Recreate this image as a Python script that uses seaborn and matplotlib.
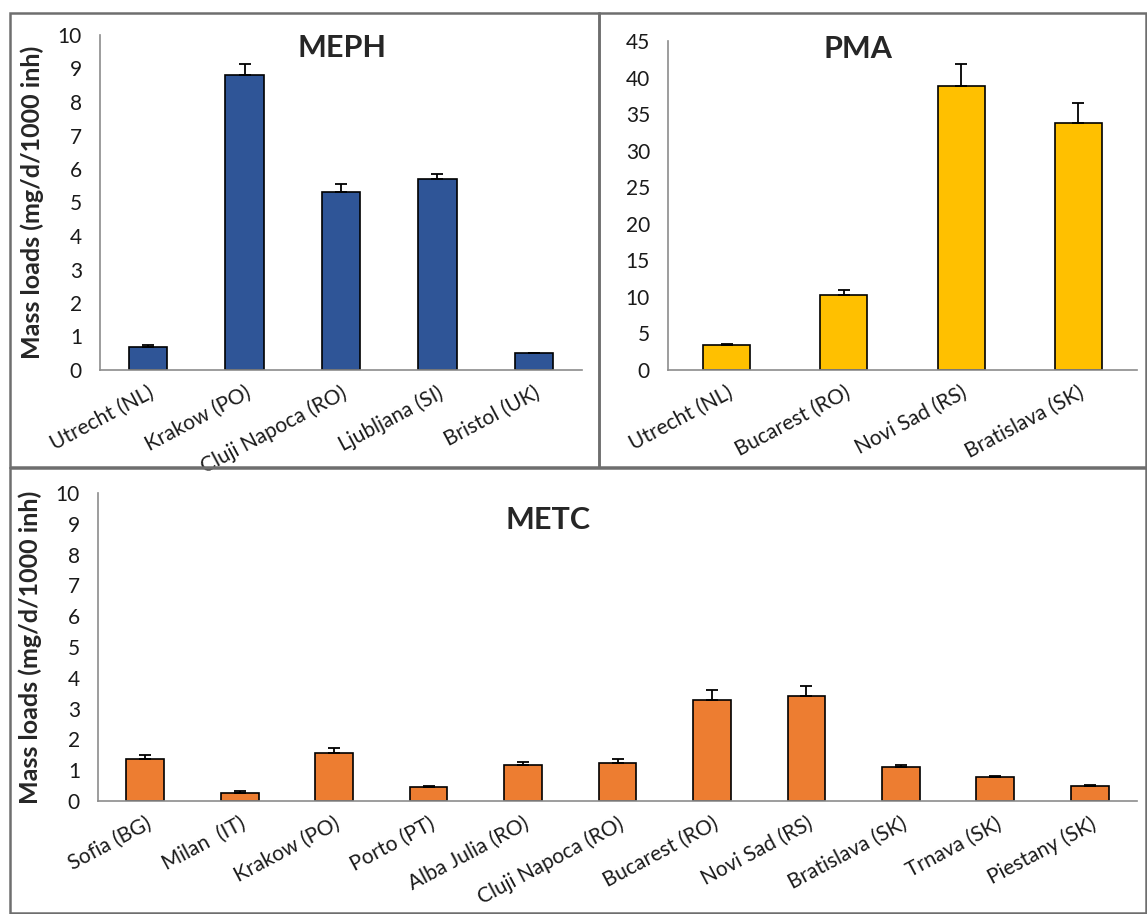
import numpy as np
import pandas as pd
import matplotlib.pyplot as plt
import seaborn as sns
from matplotlib.patches import Rectangle

# MEPH panel
meph_cities = ["Utrecht (NL)", "Krakow (PO)", "Cluji Napoca (RO)", "Ljubljana (SI)", "Bristol (UK)"]
meph_loads = [0.70, 8.82, 5.32, 5.70, 0.50]
meph_err = [0.05, 0.30, 0.22, 0.15, 0.02]

# PMA panel
pma_cities = ["Utrecht (NL)", "Bucarest (RO)", "Novi Sad (RS)", "Bratislava (SK)"]
pma_loads = [3.4, 10.2, 38.9, 33.8]
pma_err = [0.15, 0.7, 3.0, 2.7]

# METC panel
metc_cities = ["Sofia (BG)", "Milan  (IT)", "Krakow (PO)", "Porto (PT)", "Alba Julia (RO)",
               "Cluji Napoca (RO)", "Bucarest (RO)", "Novi Sad (RS)", "Bratislava (SK)",
               "Trnava (SK)", "Piestany (SK)"]
metc_loads = [1.35, 0.27, 1.57, 0.45, 1.18, 1.25, 3.28, 3.42, 1.10, 0.77, 0.50]
metc_err = [0.13, 0.04, 0.15, 0.03, 0.08, 0.10, 0.33, 0.33, 0.08, 0.03, 0.03]

sns.set_style("white")
plt.rcParams['font.family'] = ['Lato', 'DejaVu Sans']

W, H = 1147, 914
fig = plt.figure(figsize=(W / 100, H / 100), dpi=100)


def px_axes(x0, y0, x1, y1):
    # pixel box (top-left origin) -> figure axes
    return fig.add_axes([x0 / W, 1 - y1 / H, (x1 - x0) / W, (y1 - y0) / H])


def panel(ax, cities, loads, err, color, title, ymax, ystep, title_xy, ylabel):
    df = pd.DataFrame({"city": cities, "load": loads})
    sns.barplot(data=df, x="city", y="load", color=color, saturation=1,
                edgecolor="black", linewidth=1.2, width=0.4, ax=ax)
    n = len(cities)
    ax.errorbar(np.arange(n), loads, yerr=[np.zeros(n), err], fmt="none",
                ecolor="black", elinewidth=1.3, capsize=4, capthick=1.3)
    ax.set_xlim(-0.5, n - 0.5)
    ax.set_ylim(0, ymax)
    ax.set_yticks(np.arange(0, ymax + 0.01, ystep))
    ax.set_xticks(np.arange(n + 1) - 0.5)
    ax.set_xticklabels([])
    ax.set_xticks(np.arange(n), minor=True)
    ax.set_xticklabels(cities, minor=True, rotation=28, ha="right",
                       rotation_mode="anchor", fontsize=15, color="#1a1a1a")
    ax.tick_params(axis="x", which="minor", length=0, pad=9)
    ax.tick_params(axis="x", which="major", length=7, color="#8c8c8c", width=1.2)
    ax.tick_params(axis="y", length=7, color="#8c8c8c", width=1.2, labelsize=15,
                   labelcolor="#1a1a1a", pad=6)
    for s in ["top", "right"]:
        ax.spines[s].set_visible(False)
    for s in ["left", "bottom"]:
        ax.spines[s].set_color("#8c8c8c")
        ax.spines[s].set_linewidth(1.2)
    ax.set_xlabel("")
    if ylabel:
        ax.set_ylabel("Mass loads (mg/d/1000 inh)", fontsize=18, fontweight="bold", labelpad=10)
    else:
        ax.set_ylabel("")
    fig.text(title_xy[0] / W, 1 - title_xy[1] / H, title, fontsize=22,
             fontweight="bold", ha="center", va="center")


ax1 = px_axes(100, 35, 582, 370)
panel(ax1, meph_cities, meph_loads, meph_err, "#2F5597", "MEPH", 10, 1, (342, 48), True)

ax2 = px_axes(668, 41, 1137, 370)
panel(ax2, pma_cities, pma_loads, pma_err, "#FFC000", "PMA", 45, 5, (858, 49), False)

ax3 = px_axes(98, 493, 1137, 801)
panel(ax3, metc_cities, metc_loads, metc_err, "#ED7D31", "METC", 10, 1, (548, 520), True)

# panel frames
for (x0, y0, x1, y1) in [(10, 13, 599, 467), (599, 13, 1146, 467), (10, 468, 1146, 913)]:
    fig.patches.append(Rectangle((x0 / W, 1 - y1 / H), (x1 - x0) / W, (y1 - y0) / H,
                                 transform=fig.transFigure, fill=False,
                                 edgecolor="#6e6e6e", linewidth=1.8))

fig.savefig("out.png", dpi=100)
